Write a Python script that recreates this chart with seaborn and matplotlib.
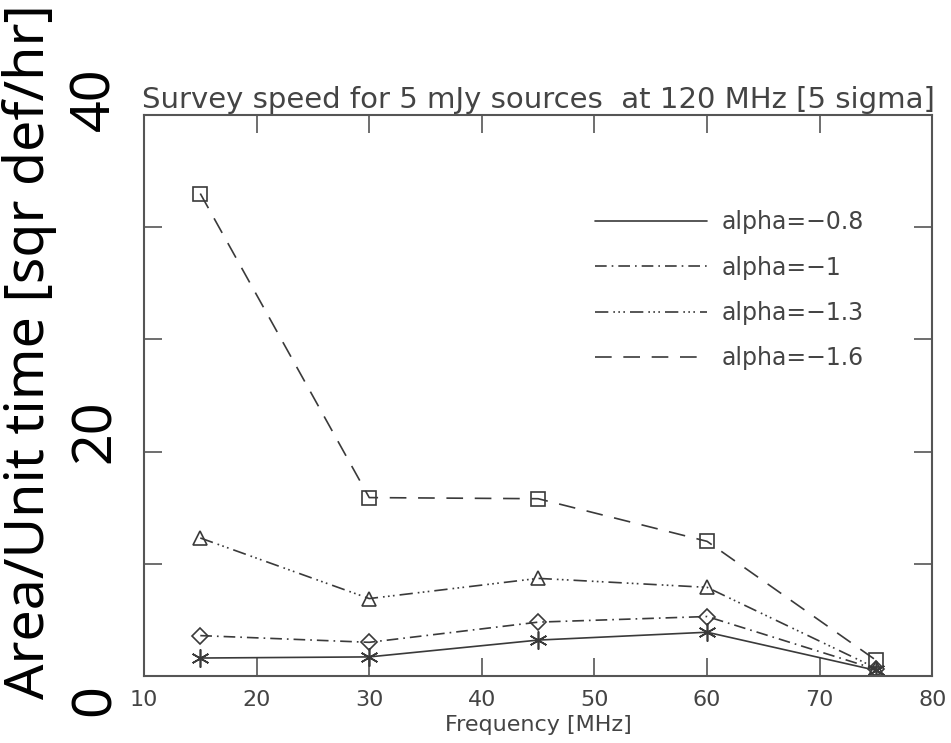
import matplotlib
matplotlib.use("Agg")
import matplotlib.pyplot as plt
import seaborn as sns
import pandas as pd

# data
freq = [15, 30, 45, 60, 75]
speed_a08 = [1.6, 1.7, 3.2, 3.9, 0.5]
speed_a10 = [3.6, 3.0, 4.8, 5.3, 0.6]
speed_a13 = [12.3, 6.9, 8.7, 7.9, 0.7]
speed_a16 = [43.0, 15.9, 15.8, 12.0, 1.4]
series_labels = ["alpha=\u22120.8", "alpha=\u22121", "alpha=\u22121.3", "alpha=\u22121.6"]
x_ticks = [10, 20, 30, 40, 50, 60, 70, 80]
y_ticks = [0, 10, 20, 30, 40, 50]
big_y_labels = ["0", "20", "40"]

sns.set_style("white")
plt.rcParams["font.family"] = ["DejaVu Sans"]

fig = plt.figure(figsize=(9.51, 7.43), dpi=100)
ax = fig.add_axes([0.1514, 0.0902, 0.829, 0.755])

ink = "#3a3a3a"
styles = [
    ("-", (6, 2, 0), 13),
    ((0, (7, 3, 1, 3)), "D", 8),
    ((0, (8, 3, 1, 2, 1, 2, 1, 3)), "^", 10),
    ((0, (10, 7)), "s", 10),
]
for vals, lab, (ls, mk, ms) in zip([speed_a08, speed_a10, speed_a13, speed_a16], series_labels, styles):
    df = pd.DataFrame({"freq": freq, "speed": vals})
    sns.lineplot(data=df, x="freq", y="speed", ax=ax, color=ink, lw=1.2,
                 linestyle=ls, marker=mk, markersize=ms, markerfacecolor="none",
                 markeredgecolor=ink, markeredgewidth=1.2, label=lab)

ax.set_xlim(10, 80)
ax.set_ylim(0, 50)
ax.set_xticks(x_ticks)
ax.set_yticks(y_ticks)
ax.set_yticklabels([])
ax.tick_params(axis="both", direction="in", length=13, width=1.2, color="#555555",
               top=True, right=True, left=True, bottom=True, labelsize=16,
               labelcolor="#444444", pad=10)
for s in ax.spines.values():
    s.set_color("#555555")
    s.set_linewidth(1.5)

ax.set_xlabel("Frequency [MHz]", fontsize=16, color="#444444", labelpad=4)
ax.set_ylabel("")
ax.set_title("Survey speed for 5 mJy sources  at 120 MHz [5 sigma]",
             fontsize=21, color="#444444", pad=5)

leg = ax.legend(loc="upper left", bbox_to_anchor=(0.557, 0.851), frameon=False,
                borderpad=0, handlelength=4.75, handletextpad=0.6, labelspacing=0.9,
                fontsize=17, labelcolor="#444444")
for h in leg.legend_handles:
    h.set_marker("")

# big overlaid axis text
big = dict(family=["Noto Sans", "DejaVu Sans"], fontsize=40, rotation=90,
           ha="center", va="center", color="black")
fig.text(0.0315, 0.527, "Area/Unit time [sqr def/hr]", **big)
for lab, yf in zip(big_y_labels, [0.058, 0.42, 0.866]):
    fig.text(0.1, yf, lab, **big)

fig.savefig("out.png", dpi=100)
